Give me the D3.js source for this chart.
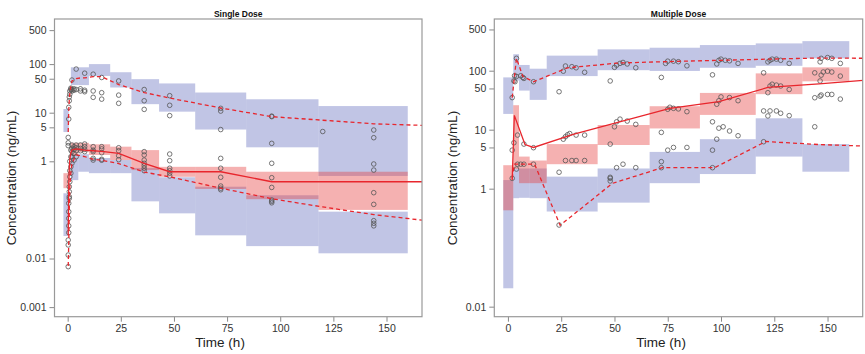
<!DOCTYPE html>
<html>
<head>
<meta charset="utf-8">
<script src="https://cdn.jsdelivr.net/npm/d3@7"></script>
<style>
  body { margin: 0; background: #fff; }
  svg { font-family: "Liberation Sans", Arial, sans-serif; }
  .tick text { fill: #333; font-size: 10.5px; }
  .tick line { stroke: #888; }
</style>
</head>
<body>
<svg id="chart" width="865" height="354"></svg>
<script>

// ---- Single dose: VPC bins (h) and prediction-interval bands (ng/mL)
var sdBinLo = [-2, 1.5, 5, 10, 20, 30, 43, 60, 84, 118];
var sdBinHi = [0.5, 5, 10, 20, 30, 43, 60, 84, 118, 160];
var sdHiBandLo = [4.0, 37, 37, 57, 33, 15, 10.5, 4.5, 1.94, 0.5];
var sdHiBandHi = [11.9, 86, 86, 100, 68, 49, 40, 26, 18.9, 13.7];
var sdMedBandLo = [0.28, 1.3, 1.55, 1.35, 1.06, 0.66, 0.48, 0.27, 0.166, 0.1];
var sdMedBandHi = [0.57, 2.4, 2.4, 2.24, 2.0, 1.7, 0.77, 0.77, 0.61, 0.61];
var sdLoBandLo = [0.029, 0.41, 0.61, 0.57, 0.57, 0.15, 0.085, 0.03, 0.018, 0.0128];
var sdLoBandHi = [0.22, 1.4, 1.4, 1.17, 1.06, 0.73, 0.47, 0.3, 0.2, 0.092];

// observed percentiles (lines)
var sdLineT = [0.25, 0.5, 0.75, 1, 1.5, 2, 3, 4, 6, 8, 12, 16, 24, 36, 48, 72, 96, 120, 144, 172];
var sdObsMed = [0.03, 0.3, 0.7, 1.1, 1.5, 1.7, 1.75, 1.8, 1.75, 1.7, 1.65, 1.6, 1.46, 0.91, 0.61, 0.61, 0.38, 0.38, 0.38, 0.38];
var sdObsP95 = [4, 11, 18, 25, 35, 45, 47, 50, 52, 52, 55, 55, 38, 26, 20, 12.5, 8.3, 7, 5.9, 5.4];
var sdObsP05 = [0.007, 0.02, 0.1, 0.3, 0.6, 0.9, 1.1, 1.35, 1.3, 1.25, 1.1, 1.05, 0.9, 0.6, 0.48, 0.28, 0.17, 0.115, 0.08, 0.058];

// observed concentrations
var sdObsT = [
  0.25, 0.25, 0.25, 0.25, 0.5, 0.5, 0.5, 0.5, 0.5, 0.75, 0.75, 0.75, 0.75, 1, 1, 1, 1,
  0.25, 0.25, 0.25, 0.5, 0.5, 0.75, 0.75, 1, 1, 1.5, 1.5, 2, 2, 2, 3, 3, 4, 4, 6, 6,
  8, 8, 8, 12, 12, 12, 16, 16, 16, 24, 24, 24, 36, 36, 36, 48, 48, 48,
  72, 72, 72, 96, 96, 96, 120, 144, 144,
  1.5, 1.5, 1.5, 1.5, 2, 2, 2, 2, 2, 3, 3, 3, 3, 4, 4, 4, 4, 6, 6, 6,
  8, 8, 8, 8, 12, 12, 12, 12, 12, 16, 16, 16, 16, 16, 24, 24, 24, 24,
  36, 36, 36, 36, 36, 36, 36, 48, 48, 48, 48, 48, 48,
  72, 72, 72, 72, 72, 72, 96, 96, 96, 96, 96, 96, 144, 144, 144, 144, 144, 144, 144
];
var sdObsC = [
  0.0068, 0.0118, 0.019, 0.024, 0.034, 0.047, 0.067, 0.092, 0.137, 0.173, 0.187, 0.237, 0.3, 0.38, 0.48, 0.64, 1.0,
  2.1, 2.4, 3.1, 7.4, 12.9, 17.6, 21, 24, 28, 30, 32, 28, 30, 47, 29, 31, 30, 79, 28, 31,
  27, 29, 65, 20.7, 28, 62, 19, 25.8, 53, 15.6, 23, 45, 11.7, 17.6, 30, 8.7, 14.2, 22.4,
  4.5, 10.8, 12.3, 2.34, 8.3, 8.5, 4.1, 3.06, 4.4,
  1.7, 1.24, 0.77, 0.57, 2.16, 1.85, 1.58, 1.24, 0.91, 2.0, 1.76, 1.46, 1.06, 2.16, 1.9, 1.65, 1.24, 2.16, 1.85, 1.65,
  2.27, 2.0, 1.76, 1.58, 2.0, 1.7, 1.58, 1.15, 1.06, 2.0, 1.8, 1.5, 1.1, 1.05, 1.9, 1.65, 1.3, 1.08,
  1.58, 1.35, 1.06, 0.91, 0.81, 0.72, 0.64, 1.41, 1.03, 0.72, 0.64, 0.57, 0.5,
  1.15, 0.72, 0.47, 0.31, 0.28, 0.26, 0.91, 0.46, 0.29, 0.16, 0.15, 0.14, 0.88, 0.66, 0.226, 0.13, 0.06, 0.053, 0.047
];

// ---- Multiple dose
var mdBinLo = [-2.2, 2.5, 5.2, 10.2, 18.2, 42.1, 66.5, 90.1, 116.3, 138.2];
var mdBinHi = [2.5, 5.2, 10.2, 18.2, 42.1, 66.5, 90.1, 116.3, 138.2, 160.2];
var mdHiBandLo = [18.5, 68, 46, 32, 81, 102, 99, 112, 121, 162];
var mdHiBandHi = [77, 190, 125, 108, 180, 230, 245, 272, 290, 317];
var mdMedBandLo = [0.43, 2.15, 1.24, 1.24, 2.6, 5.5, 10.5, 17.8, 40, 66];
var mdMedBandHi = [2.5, 26, 3.5, 3.0, 5.7, 12, 25, 42, 90, 114];
var mdLoBandLo = [0.0205, 0.69, 0.7, 0.69, 0.41, 0.58, 1.24, 1.77, 3.5, 1.94];
var mdLoBandHi = [1.4, 2.2, 2.2, 2.2, 1.6, 2.2, 4.2, 6.9, 15.6, 5.7];

var mdMedT = [2, 3, 8, 12, 31, 76, 99, 122, 146, 172];
var mdObsMed = [1.4, 17.5, 5.6, 5.0, 8.4, 23, 30, 52, 60, 71];
var mdP95T = [2, 4, 7, 12, 28, 52, 76, 100, 122, 146, 172];
var mdObsP95 = [35, 162, 80, 65, 112, 135, 143, 150, 157, 164, 162];
var mdP05T = [2, 3, 8, 12.5, 24.5, 49, 72.5, 97, 121, 146, 172];
var mdObsP05 = [1.5, 2.6, 2.6, 2.6, 0.24, 1.23, 2.27, 2.27, 6.3, 5.6, 5.2];

var mdObsT = [
  2, 2, 2, 2.8, 2.8, 3.1, 3.3, 4, 4, 4, 4.5, 4.5, 6, 6, 7, 7.5, 7.5, 7.5, 12, 12, 12,
  24, 24, 24, 26, 26, 27, 27, 27, 28, 29, 30, 30, 32, 32, 32, 36, 36, 36,
  48, 48, 48, 48, 48, 50, 50, 51, 51, 51, 52.6, 52.6, 54, 54, 56, 56, 60, 60, 60,
  72, 72, 72, 72, 74, 75, 75, 75, 76, 77.7, 77.7, 77.7, 80, 80, 84, 84, 84,
  96, 96, 96, 96, 98, 98, 98, 99, 99, 99, 100, 100, 101, 102, 104, 104, 104, 108, 108, 108,
  120, 120, 120, 122, 122, 122, 123, 123, 123, 124, 124, 126, 126, 126, 128, 128, 128, 132, 132, 132,
  144, 144, 144, 146.5, 146.5, 146.5, 147, 147, 147, 148, 150, 150, 150, 152, 152, 152, 156, 156, 156
];
var mdObsC = [
  35, 4.5, 1.5, 67, 6.0, 82, 65, 162, 80, 2.15, 8.1, 2.6, 82, 2.6, 77, 74, 5.7, 2.6, 65, 4.95, 2.6,
  44, 1.9, 0.242, 98, 6.9, 120, 7.6, 3.0, 8.2, 8.6, 117, 3.0, 112, 8.1, 3.0, 94, 8.1, 3.0,
  67, 5.7, 1.56, 1.5, 1.35, 114, 11.2, 124, 13.6, 2.27, 133, 15.1, 138, 2.6, 130, 14, 112, 12.3, 2.27,
  77, 9.0, 2.87, 2.27, 133, 145, 22.2, 4.5, 24, 145, 23, 5.0, 142, 22.5, 121, 20.2, 5.0,
  85, 13.6, 4.5, 2.27, 130, 27, 6.9, 150, 31, 10.6, 157, 36, 11.2, 150, 147, 35, 9.5, 133, 31, 7.9,
  92, 20.8, 6.25, 141, 42.4, 17.1, 150, 55, 20.8, 157, 59, 157, 57, 20.8, 150, 55, 19, 133, 48, 17.3,
  92, 11.2, 34.8, 141, 67, 37, 162, 84, 38.7, 95, 167, 98, 39.6, 162, 95, 39.6, 133, 81, 33
];

var xTicks = [0, 25, 50, 75, 100, 125, 150];
var sdYTicks = [500, 100, 50, 10, 5, 1, 0.01, 0.001];
var mdYTicks = [500, 100, 50, 10, 5, 1, 0.01];

var blueFill = "rgba(100,110,190,0.4)";
var redFill = "rgba(230,60,60,0.4)";
var lineRed = "#e8262d";

var svg = d3.select("#chart");

function drawPanel(p) {

    var x = d3.scaleLinear().domain(p.tDomain).range([p.left, p.right]);
    var y = d3.scaleLog().domain(p.cDomain).range([p.bottom, p.top]);

    var g = svg.append("g");

    g.append("clipPath").attr("id", p.id + "-clip")
        .append("rect")
            .attr("x", p.left).attr("y", p.top)
            .attr("width", p.right - p.left).attr("height", p.bottom - p.top);

    var plot = g.append("g").attr("clip-path", "url(#" + p.id + "-clip)");

    // shaded prediction intervals per bin
    function bands(lo, hi, fill) {
        plot.append("g").selectAll("rect")
            .data(p.binLo)
            .enter().append("rect")
                .attr("x", function(d) { return x(d); })
                .attr("width", function(d, i) { return x(p.binHi[i]) - x(d); })
                .attr("y", function(d, i) { return y(hi[i]); })
                .attr("height", function(d, i) { return y(lo[i]) - y(hi[i]); })
                .style("fill", fill);
    }
    bands(p.hiLo, p.hiHi, blueFill);
    bands(p.loLo, p.loHi, blueFill);
    bands(p.medLo, p.medHi, redFill);

    // observed points
    plot.append("g").selectAll("circle")
        .data(p.obsT)
        .enter().append("circle")
            .attr("cx", function(d) { return x(d); })
            .attr("cy", function(d, i) { return y(p.obsC[i]); })
            .attr("r", 2.3)
            .style("fill", "none")
            .style("stroke", "#555")
            .style("stroke-width", 0.8);

    // observed percentile lines
    function pline(ts, vs, dash) {
        var line = d3.line()
            .x(function(d) { return x(d); })
            .y(function(d, i) { return y(vs[i]); });
        plot.append("path")
            .datum(ts)
            .attr("d", line)
            .style("fill", "none")
            .style("stroke", lineRed)
            .style("stroke-width", 1.3)
            .style("stroke-dasharray", dash);
    }
    pline(p.medT, p.med, null);
    pline(p.p95T, p.p95, "4,3");
    pline(p.p05T, p.p05, "4,3");

    // axes
    g.append("g")
        .attr("transform", "translate(" + p.left + ",0)")
        .call(d3.axisLeft(y).tickValues(p.yTicks).tickFormat(function(d) { return String(d); })
            .tickSize(5).tickPadding(3))
        .call(function(a) { a.select(".domain").remove(); });

    g.append("g")
        .attr("transform", "translate(0," + p.bottom + ")")
        .call(d3.axisBottom(x).tickValues(xTicks).tickSize(5).tickPadding(3))
        .call(function(a) { a.select(".domain").remove(); });

    g.append("rect")
        .attr("x", p.left).attr("y", p.top)
        .attr("width", p.right - p.left).attr("height", p.bottom - p.top)
        .style("fill", "none").style("stroke", "#999").style("stroke-width", 1.2);

    // titles
    g.append("text")
        .attr("x", (p.left + p.right) / 2).attr("y", 16.5)
        .attr("text-anchor", "middle")
        .style("font-size", "8.5px").style("font-weight", "bold").style("fill", "#111")
        .text(p.title);

    g.append("text")
        .attr("x", p.xLabelX).attr("y", 346.5)
        .attr("text-anchor", "middle")
        .style("font-size", "13.5px").style("fill", "#222")
        .text("Time (h)");

    g.append("text")
        .attr("transform", "translate(" + p.yLabelX + ",178) rotate(-90)")
        .attr("text-anchor", "middle")
        .style("font-size", "13.5px").style("fill", "#222")
        .text("Concentration (ng/mL)");
}

drawPanel({
    id: "sd", title: "Single Dose",
    left: 54.5, right: 422, top: 19, bottom: 316.7,
    tDomain: [-6.2, 166.7], cDomain: [0.000635, 847],
    yTicks: sdYTicks, xLabelX: 220, yLabelX: 16,
    binLo: sdBinLo, binHi: sdBinHi,
    hiLo: sdHiBandLo, hiHi: sdHiBandHi,
    medLo: sdMedBandLo, medHi: sdMedBandHi,
    loLo: sdLoBandLo, loHi: sdLoBandHi,
    obsT: sdObsT, obsC: sdObsC,
    medT: sdLineT, med: sdObsMed,
    p95T: sdLineT, p95: sdObsP95,
    p05T: sdLineT, p05: sdObsP05
});

drawPanel({
    id: "md", title: "Multiple Dose",
    left: 494.3, right: 862.7, top: 19, bottom: 316.7,
    tDomain: [-6.4, 166.5], cDomain: [0.00676, 752],
    yTicks: mdYTicks, xLabelX: 661, yLabelX: 457,
    binLo: mdBinLo, binHi: mdBinHi,
    hiLo: mdHiBandLo, hiHi: mdHiBandHi,
    medLo: mdMedBandLo, medHi: mdMedBandHi,
    loLo: mdLoBandLo, loHi: mdLoBandHi,
    obsT: mdObsT, obsC: mdObsC,
    medT: mdMedT, med: mdObsMed,
    p95T: mdP95T, p95: mdObsP95,
    p05T: mdP05T, p05: mdObsP05
});

</script>
</body>
</html>
